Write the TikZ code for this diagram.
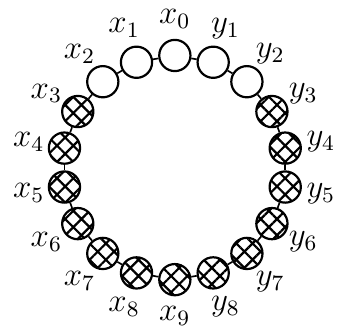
\documentclass[tikz,border=0pt]{standalone}
\usetikzlibrary{patterns.meta}
\begin{document}
\begin{tikzpicture}[x=1cm,y=1cm,line width=0.8pt,
	font=\fontsize{11.5}{14}\selectfont,
	dinh/.style={circle,draw,inner sep=0pt,minimum size=0.4cm},
	gach/.style={dinh,pattern={Hatch[angle=45,distance=4.2pt,line width=0.8pt]}},
	canh/.style={line width=0.6pt}]
	\def\R{1.436} % ban kinh vong tron
	\def\L{1.9} % ban kinh dat nhan
	\useasboundingbox (-2.24,-2.12) rectangle (2.103,2.147);
	\node[dinh] (x0) at (90:\R) {};
	\node[inner sep=1pt] (lx0) at (90:\L) {$x_0$};
	\foreach \i in {1,...,9}{
		\ifnum\i<3 \def\kieu{dinh}\else\def\kieu{gach}\fi
		\pgfmathsetmacro\goc{90+20*\i}
		\node[\kieu] (x\i) at (\goc:\R) {};
		\node (lx\i) at (\goc:\L) {$x_{\i}$};
	}
	\foreach \i in {1,...,8}{
		\ifnum\i<3 \def\kieu{dinh}\else\def\kieu{gach}\fi
		\pgfmathsetmacro\goc{90-20*\i}
		\node[\kieu] (y\i) at (\goc:\R) {};
		\node (ly\i) at (\goc:\L) {$y_{\i}$};
	}
	% cac canh
	\foreach \i [remember=\i as \j (initially 0)] in {1,...,9}
		\draw[canh] (x\j) -- (x\i);
	\draw[canh] (x0) -- (y1);
	\foreach \i [remember=\i as \j (initially 1)] in {2,...,8}
		\draw[canh] (y\j) -- (y\i);
	\draw[canh] (y8) -- (x9);
\end{tikzpicture}
\end{document}
